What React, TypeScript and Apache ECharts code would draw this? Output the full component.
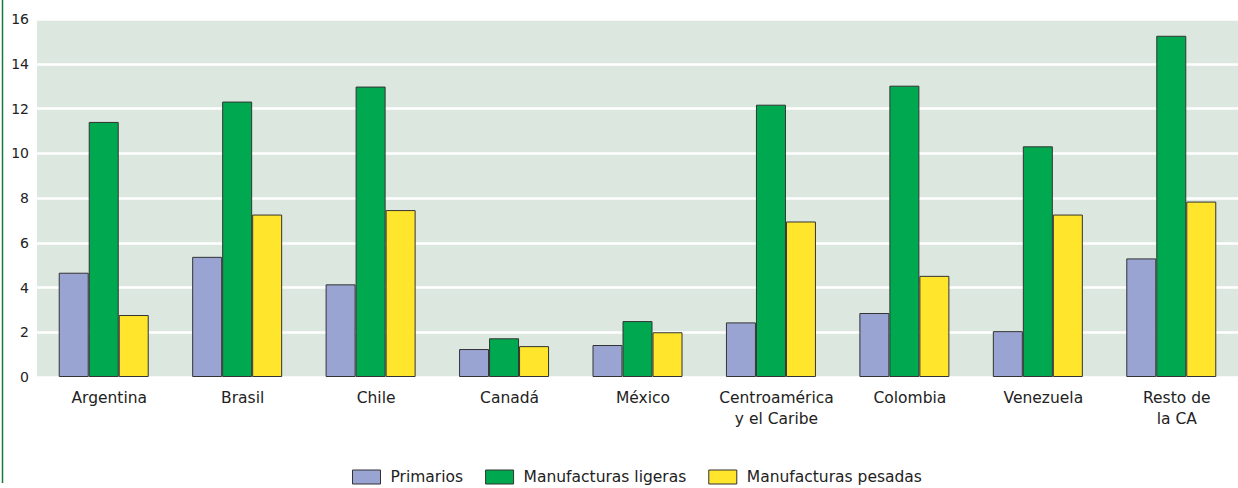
import React, { useEffect, useRef } from "react";
import * as echarts from "echarts";

const categories = [
  "Argentina",
  "Brasil",
  "Chile",
  "Canadá",
  "México",
  "Centroamérica\ny el Caribe",
  "Colombia",
  "Venezuela",
  "Resto de\nla CA",
];
const primarios = [4.66, 5.37, 4.14, 1.25, 1.43, 2.44, 2.86, 2.05, 5.3];
const ligeras = [11.4, 12.31, 12.98, 1.73, 2.5, 12.17, 13.02, 10.31, 15.25];
const pesadas = [2.77, 7.26, 7.46, 1.38, 2.0, 6.95, 4.52, 7.26, 7.84];
const seriesNames = ["Primarios", "Manufacturas ligeras", "Manufacturas pesadas"];
const colors = ["#99a4d2", "#00a94f", "#ffe52b"];

const FONT = "'DejaVu Sans', sans-serif";

export default function App() {
  const ref = useRef<HTMLDivElement>(null);
  useEffect(() => {
    if (!ref.current) return;
    const chart = echarts.init(ref.current, undefined, { renderer: "svg" });
    const data = [primarios, ligeras, pesadas];
    chart.setOption({
      animation: false,
      textStyle: { fontFamily: FONT },
      grid: {
        left: 37,
        right: 0,
        top: 19,
        bottom: 111,
        show: true,
        backgroundColor: "#dbe7df",
        borderWidth: 0,
      },
      legend: {
        top: 469,
        left: 352,
        icon: "rect",
        itemWidth: 28,
        itemHeight: 14,
        itemGap: 22,
        padding: 0,
        textStyle: {
          fontSize: 15.5,
          color: "#222",
          fontFamily: FONT,
          padding: [0, 0, 0, 5],
        },
        data: seriesNames.map((n) => ({
          name: n,
          itemStyle: { borderColor: "#333", borderWidth: 1 },
        })),
      },
      xAxis: {
        type: "category",
        data: categories,
        axisLine: { show: false },
        axisTick: { show: false },
        axisLabel: {
          fontSize: 15.5,
          color: "#222",
          lineHeight: 21,
          margin: 10,
          interval: 0,
          padding: [0, 0, 0, 11],
          fontFamily: FONT,
        },
      },
      yAxis: {
        type: "value",
        min: 0,
        max: 16,
        interval: 2,
        axisLine: { show: false },
        axisTick: { show: false },
        axisLabel: { fontSize: 14, color: "#222", margin: 8, fontFamily: FONT },
        splitLine: { lineStyle: { color: "#ffffff", width: 2.5 } },
      },
      series: seriesNames.map((name, i) => ({
        name,
        type: "bar",
        data: data[i],
        barWidth: 30,
        barGap: "0%",
        itemStyle: { color: colors[i], borderColor: "#333", borderWidth: 1 },
      })),
      graphic: [
        {
          type: "line",
          shape: { x1: 2.5, y1: 0, x2: 2.5, y2: 483 },
          style: { stroke: "#137a3d", lineWidth: 1.5 },
        },
      ],
    });
    return () => chart.dispose();
  }, []);
  return (
    <div
      ref={ref}
      style={{ position: "fixed", left: 0, top: 0, width: 1238, height: 488, background: "#fff" }}
    />
  );
}
